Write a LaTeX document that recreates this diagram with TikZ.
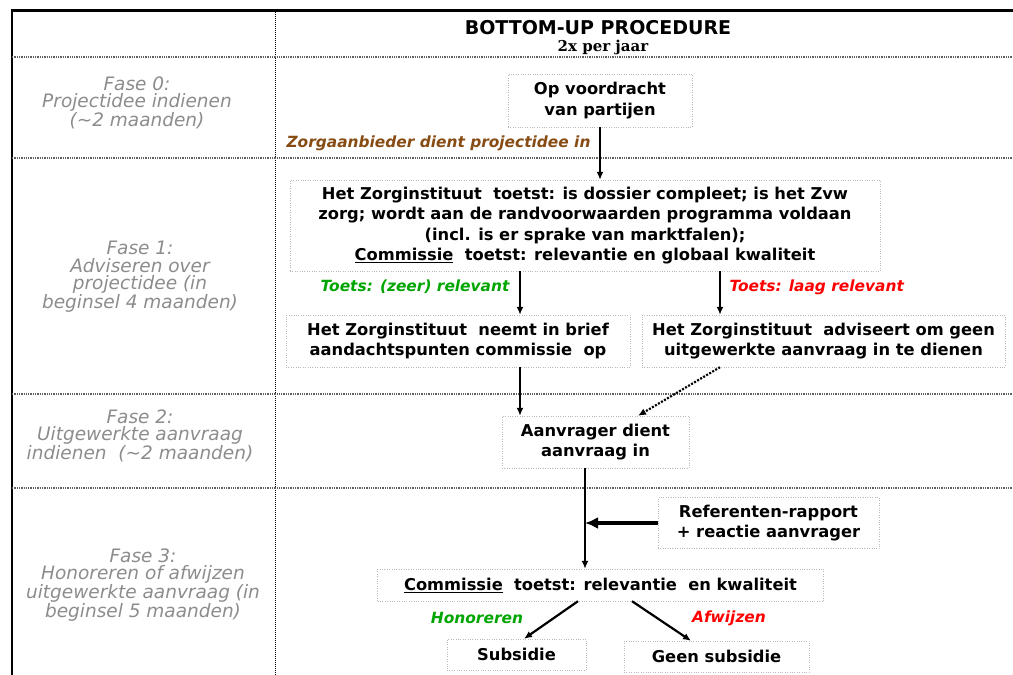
\documentclass[tikz,border=0pt]{standalone}
\usepackage{fontspec}
\usepackage{tikz}
\usetikzlibrary{positioning, arrows.meta}
\setmainfont{DejaVu Sans}
\newfontfamily\titleserif{DejaVu Serif}
\definecolor{fasegray}{RGB}{140,140,140}
\definecolor{zorgbrown}{RGB}{135,75,20}
\definecolor{toetsgreen}{RGB}{0,165,0}
\definecolor{toetsred}{RGB}{255,0,0}
\tikzstyle{box} = [draw=gray!55, dotted, align=center, inner sep=2pt,
  font=\fontsize{16.3}{20.5}\selectfont\bfseries]
\tikzstyle{fase} = [align=center, text=fasegray,
  font=\fontsize{18.5}{17.5}\selectfont\itshape]
\tikzstyle{sep} = [draw=gray!75!black, line width=1.6pt, dash pattern=on 1.3pt off 1pt]
\tikzstyle{flow} = [-{Latex[length=8pt,width=7pt]}, line width=2.2pt]
\tikzstyle{cond} = [font=\fontsize{15.4}{16}\selectfont\bfseries\itshape]

\begin{document}
\begin{tikzpicture}[x=1pt, y=-1pt]
\useasboundingbox (0,0) rectangle (1013,675);
% frame and phase grid
\draw[line width=2.5pt] (12,675) -- (12,10.5) -- (1013,10.5);
\draw[line width=0.7pt, dash pattern=on 1pt off 1pt] (275,10) -- (275,675);
\foreach \y in {57,158,394,488}
  \draw[sep] (12,\y) -- (1013,\y);

\node[font=\fontsize{19}{20}\selectfont\bfseries] (title) at (598,28) {BOTTOM-UP PROCEDURE};
\node[font=\fontsize{15}{16}\selectfont\bfseries\titleserif] (freq) at (603,47) {2x per jaar};

% phases
\node[fase] (f0) at (137,103) {Fase 0:\\Projectidee indienen\\(\textasciitilde2 maanden)};
\node[fase] (f1) at (140,277) {Fase 1:\\Adviseren over\\projectidee (in\\beginsel 4 maanden)};
\node[fase] (f2) at (140,436) {Fase 2:\\Uitgewerkte aanvraag\\indienen\ \ (\textasciitilde2 maanden)};
\node[fase] (f3) at (143,585) {Fase 3:\\Honoreren of afwijzen\\uitgewerkte aanvraag (in\\beginsel 5 maanden)};

% boxes
\node[box, minimum width=184pt, minimum height=53pt] (op) at (600,100.5) {Op voordracht\\van partijen};
\node[box, minimum width=590pt, minimum height=91pt] (zorg) at (585,225.5)
  {Het Zorginstituut\ \ toetst: is dossier compleet; is het Zvw\\
   zorg; wordt aan de randvoorwaarden programma voldaan\\
   (incl. is er sprake van marktfalen);\\
   \underline{Commissie}\ \ toetst: relevantie en globaal kwaliteit};
\node[box, minimum width=344pt, minimum height=52pt] (brief) at (458,341)
  {Het Zorginstituut\ \ neemt in brief\\aandachtspunten commissie\ \ op};
\node[box, minimum width=363pt, minimum height=52pt] (advies) at (823.5,341)
  {Het Zorginstituut\ \ adviseert om geen\\uitgewerkte aanvraag in te dienen};
\node[box, minimum width=187pt, minimum height=52pt] (aanvr) at (595.5,442)
  {Aanvrager dient\\aanvraag in};
\node[box, minimum width=221pt, minimum height=51pt] (ref) at (768.5,523)
  {Referenten-rapport\\+ reactie aanvrager};
\node[box, minimum width=446pt, minimum height=32pt] (comm) at (600.5,585)
  {\underline{Commissie}\ \ toetst: relevantie\ \ en kwaliteit};
\node[box, minimum width=139pt, minimum height=31pt] (subs) at (516.5,654.5) {Subsidie};
\node[box, minimum width=185pt, minimum height=31pt] (geen) at (716.5,656.5) {Geen subsidie};

% columns for the connectors
\coordinate (c1) at (520,0);
\coordinate (c2) at (720,0);
\coordinate (c3) at (638,0);
\coordinate (c4) at (585,0);
\coordinate (c5) at (578,0);
\coordinate (c6) at (632,0);
\coordinate (c7) at (524,0);
\coordinate (c8) at (691,0);

\draw[flow] (op.south) -- (op.south |- zorg.north);
\draw[flow] (zorg.south -| c1) -- (brief.north -| c1);
\draw[flow] (zorg.south -| c2) -- (advies.north -| c2);
\draw[flow] (brief.south -| c1) -- (aanvr.north -| c1);
\draw[flow, dash pattern=on 2pt off 1.5pt] (advies.south -| c2) -- (aanvr.north -| c3);
\draw[flow] (aanvr.south -| c4) -- (comm.north -| c4);
\draw[-{Latex[length=13pt,width=12pt]}, line width=4pt] (ref.west) -- (ref.west -| c4);
\draw[flow] (comm.south -| c5) -- (subs.north -| c7);
\draw[flow] (comm.south -| c6) -- (geen.north -| c8);

% labels on the connectors
\node[cond, text=zorgbrown, anchor=east] (lzorg) at (594,143) {Zorgaanbieder dient projectidee in};
\node[cond, text=toetsgreen, anchor=east] (lhoog) at (513,287) {Toets: (zeer) relevant};
\node[cond, text=toetsred, anchor=west] (llaag) at (726,287) {Toets: laag relevant};
\node[cond, text=toetsgreen] (lhon) at (477,618) {Honoreren};
\node[cond, text=toetsred] (lafw) at (729,618) {Afwijzen};
\end{tikzpicture}
\end{document}
